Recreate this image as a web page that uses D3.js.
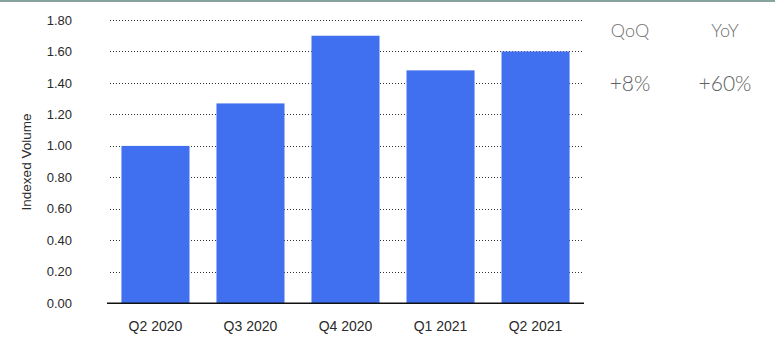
<!DOCTYPE html>
<html>
<head>
<meta charset="utf-8">
<script src="https://cdn.jsdelivr.net/npm/d3@7"></script>
<style>
  body { margin: 0; background: #fff; }
  svg text { font-family: "Liberation Sans", Arial, sans-serif; }
</style>
</head>
<body>
<div id="app"></div>
<script>
const quarters = ["Q2 2020", "Q3 2020", "Q4 2020", "Q1 2021", "Q2 2021"];
const volumes = [1.0, 1.27, 1.7, 1.48, 1.6];
const yTicks = [0, 0.2, 0.4, 0.6, 0.8, 1.0, 1.2, 1.4, 1.6, 1.8];
const statLabels = ["QoQ", "YoY"];
const statValues = ["+8%", "+60%"];

const chart = () => {
  const width = 775;
  const height = 348;
  const marginLeft = 107;
  const plotRight = 584;
  const marginTop = 20;
  const baseline = 303.3;

  const svg = d3.create("svg").attr("width", width).attr("height", height);

  // top border strip
  svg.append("rect")
    .attr("x", 0).attr("y", 0)
    .attr("width", width).attr("height", 2)
    .attr("fill", "#86a39e");

  const x = d3.scaleBand()
    .domain(quarters)
    .range([marginLeft, plotRight])
    .paddingInner(0.284)
    .paddingOuter(0.152);

  const y = d3.scaleLinear()
    .domain([0, 1.8])
    .range([baseline, marginTop]);

  // dotted gridlines
  svg.append("g")
    .selectAll("line")
    .data(yTicks.filter((d) => d > 0))
    .join("line")
    .attr("x1", 110)
    .attr("x2", plotRight)
    .attr("y1", (d) => Math.round(y(d)) + 0.5)
    .attr("y2", (d) => Math.round(y(d)) + 0.5)
    .attr("stroke", "#333")
    .attr("stroke-width", 1)
    .attr("stroke-dasharray", "1,2");

  // y tick labels
  svg.append("g")
    .selectAll("text")
    .data(yTicks)
    .join("text")
    .attr("x", 72)
    .attr("y", (d) => y(d))
    .attr("dy", "0.35em")
    .attr("text-anchor", "end")
    .attr("font-size", 13)
    .attr("fill", "#2a2a2a")
    .text((d) => d3.format(".2f")(d));

  // bars
  svg.append("g")
    .selectAll("rect")
    .data(quarters)
    .join("rect")
    .attr("x", (d) => x(d))
    .attr("y", (d, i) => y(volumes[i]))
    .attr("width", x.bandwidth())
    .attr("height", (d, i) => y(0) - y(volumes[i]))
    .attr("fill", "#4070ef");

  // baseline
  svg.append("line")
    .attr("x1", marginLeft).attr("x2", plotRight)
    .attr("y1", baseline).attr("y2", baseline)
    .attr("stroke", "#111")
    .attr("stroke-width", 1.5);

  // x labels
  svg.append("g")
    .selectAll("text")
    .data(quarters)
    .join("text")
    .attr("x", (d) => x(d) + x.bandwidth() / 2)
    .attr("y", 331)
    .attr("text-anchor", "middle")
    .attr("font-size", 14)
    .attr("fill", "#2a2a2a")
    .text((d) => d);

  // y axis title
  svg.append("text")
    .attr("transform", "translate(31,162) rotate(-90)")
    .attr("text-anchor", "middle")
    .attr("font-size", 13.5)
    .attr("fill", "#2a2a2a")
    .text("Indexed Volume");

  // QoQ / YoY stats
  const statX = [630, 725];
  svg.append("g")
    .selectAll("text")
    .data(statLabels)
    .join("text")
    .attr("x", (d, i) => statX[i])
    .attr("y", 37)
    .attr("text-anchor", "middle")
    .style("font-family", "Lato, sans-serif")
    .style("font-weight", 300)
    .attr("font-size", 18)
    .attr("fill", "#707070")
    .text((d) => d);

  svg.append("g")
    .selectAll("text")
    .data(statValues)
    .join("text")
    .attr("x", (d, i) => statX[i])
    .attr("y", 91)
    .attr("text-anchor", "middle")
    .style("font-family", "Lato, sans-serif")
    .style("font-weight", 300)
    .attr("font-size", 21)
    .attr("fill", "#606060")
    .text((d) => d);

  return svg.node();
};

d3.select("#app").append(chart);
</script>
</body>
</html>
